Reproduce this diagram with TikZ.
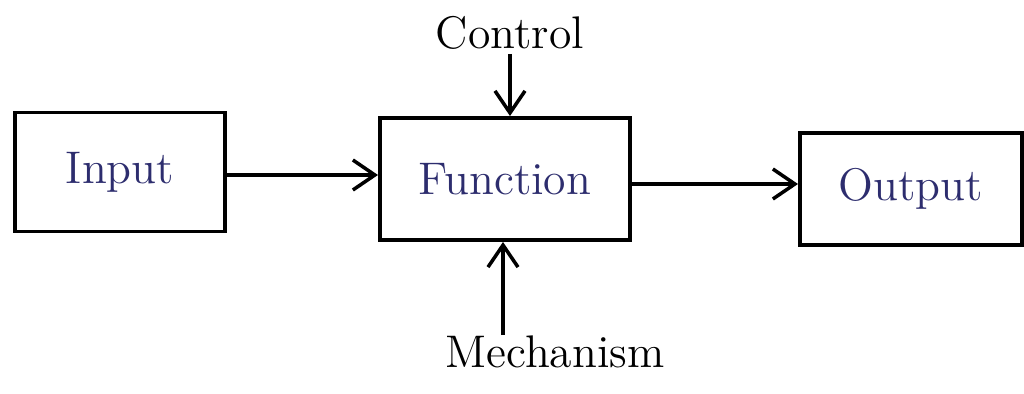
\documentclass[tikz,border=0pt]{standalone}
\usetikzlibrary{arrows.meta}

\definecolor{inkblue}{RGB}{45,45,110}

\begin{document}
\begin{tikzpicture}[
    x=0.01cm, y=-0.01cm,
    block/.style={rectangle, draw, line width=1.1pt, text centered, font=\fontsize{13}{15}\selectfont, text=inkblue},
    arrow/.style={-{Straight Barb[length=2.2mm, width=3mm]}, line width=1pt},
    label/.style={font=\fontsize{13}{15}\selectfont, inner sep=1pt}
]
\useasboundingbox (0,0) rectangle (1024,394);

\node[block, minimum width=2.1cm, minimum height=1.19cm] (input) at (120,172) {Input};
\node[block, minimum width=2.5cm, minimum height=1.22cm] (function) at (505,179) {Function};
\node[block, minimum width=2.22cm, minimum height=1.12cm] (output) at (911,189) {Output};

\node[label] (control) at (510,33) {Control};
\node[label] (mechanism) at (555,352) {Mechanism};

\draw[arrow] (input.east |- 0,175) -- (function.west |- 0,175);
\draw[arrow] (function.east |- 0,184) -- (output.west |- 0,184);
\draw[arrow] (control.south -| 510,0) -- (function.north -| 510,0);
\draw[arrow] (503,335) -- (function.south -| 503,0);

\end{tikzpicture}
\end{document}
